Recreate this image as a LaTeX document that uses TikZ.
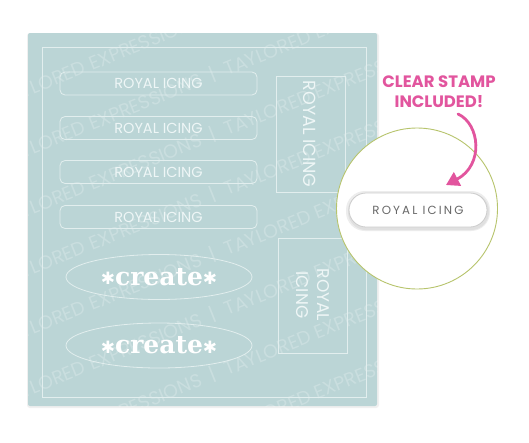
\documentclass[tikz,border=0pt]{standalone}
\usepackage{fontspec}
\setmainfont{Poppins}
\newfontfamily\spaced[LetterSpace=18]{Poppins}
\newfontfamily\slab{DejaVu Serif}
\newfontfamily\sym{DejaVu Sans}
\usetikzlibrary{arrows.meta,shapes.geometric}
\definecolor{panel}{HTML}{BBD5D6}
\definecolor{pline}{HTML}{E2EEEE}
\definecolor{ptext}{HTML}{EEF6F6}
\definecolor{pinkc}{HTML}{E2559E}
\definecolor{olive}{HTML}{B7C46C}
\definecolor{greytext}{HTML}{686868}
\tikzset{
  barbox/.style={draw=pline, line width=0.8pt, rounded corners=5pt, minimum width=197pt, minimum height=23pt, inner sep=0pt, text=ptext, font=\fontsize{14.5}{14.5}\selectfont},
  vbox/.style={draw=pline, line width=0.8pt, inner sep=0pt, text=ptext},
  ovalbox/.style={draw=pline, line width=0.8pt, ellipse, minimum width=186pt, minimum height=45pt, inner sep=0pt, text=white, font=\slab\bfseries\fontsize{25}{25}\selectfont},
  wmark/.style={text=white, opacity=0.22, font=\fontsize{19}{19}\selectfont, rotate=22, inner sep=0pt}
}
\newcommand{\astk}{{\sym\fontsize{17}{17}\selectfont\raisebox{0.5pt}{✱}}}
\begin{document}
\begin{tikzpicture}[x=1pt,y=-1pt]
\useasboundingbox (0,0) rectangle (529,442);
\fill[white] (0,0) rectangle (529,442);
% panel with soft shadow
\fill[gray!12, rounded corners=3pt] (27,33) rectangle (379,408);
\fill[panel, rounded corners=2pt] (28,33) rectangle (377,406);
% watermark
\begin{scope}
\clip (28,33) rectangle (377,406);
\foreach \yy in {20,80,140,200,260,320,380,440} {
  \node[wmark] at (200,\yy) {EXPRESSIONS \ \textbar\ \ TAYLORED EXPRESSIONS \ \textbar\ \ TAYLORED EXPRESSIONS \ \textbar\ \ TAYLORED};
}
\end{scope}
\draw[pline, line width=0.8pt] (42,47) rectangle (366,397);
% bars
\node[barbox] (b1) at (158.5,83.5) {ROYAL ICING};
\node[barbox] (b2) at (158.5,128) {ROYAL ICING};
\node[barbox] (b3) at (158.5,172) {ROYAL ICING};
\node[barbox] (b4) at (158.5,217) {ROYAL ICING};
% vertical boxes
\node[vbox, minimum width=69pt, minimum height=116pt] (v1) at (310.5,134) {};
\node[text=ptext, rotate=-90, font=\fontsize{17.5}{17.5}\selectfont, inner sep=0pt] (v1t) at (310,134) {ROYAL ICING};
\node[vbox, minimum width=69pt, minimum height=115pt] (v2) at (312.5,295.5) {};
\node[text=ptext, rotate=-90, font=\fontsize{17}{21}\selectfont, align=center, inner sep=0pt] (v2t) at (313,295) {ROYAL\\ICING};
% ovals
\node[ovalbox] (o1) at (159,277) {\astk create\astk};
\node[ovalbox] (o2) at (159,345.5) {\astk create\astk};
% magnifier circle
\node[circle, draw=olive, fill=white, line width=0.9pt, minimum size=161pt, inner sep=0pt] (mag) at (417,208.5) {};
\fill[gray!14, rounded corners=19pt] (346,191) rectangle (490,231);
\fill[gray!24, rounded corners=18pt] (348,193) rectangle (489,230);
\node[draw=gray!40, fill=white, line width=0.8pt, rounded corners=17pt, minimum width=138pt, minimum height=34pt, inner sep=0pt, text=greytext, font=\spaced\fontsize{11.8}{11.8}\selectfont] (pill) at (418,210) {ROYAL ICING};
% label
\node[text=pinkc, font=\bfseries\fontsize{16.5}{20}\selectfont, align=center, inner sep=0pt] (clear) at (439,92) {CLEAR STAMP\\INCLUDED!};
\coordinate (arrS) at (458,114);
\coordinate (arrE) at (446,185);
\draw[pinkc, line width=2.8pt, line cap=round, -{Triangle[length=13pt,width=15pt]}] (arrS) .. controls (480,124) and (484,165) .. (arrE);
\end{tikzpicture}
\end{document}
